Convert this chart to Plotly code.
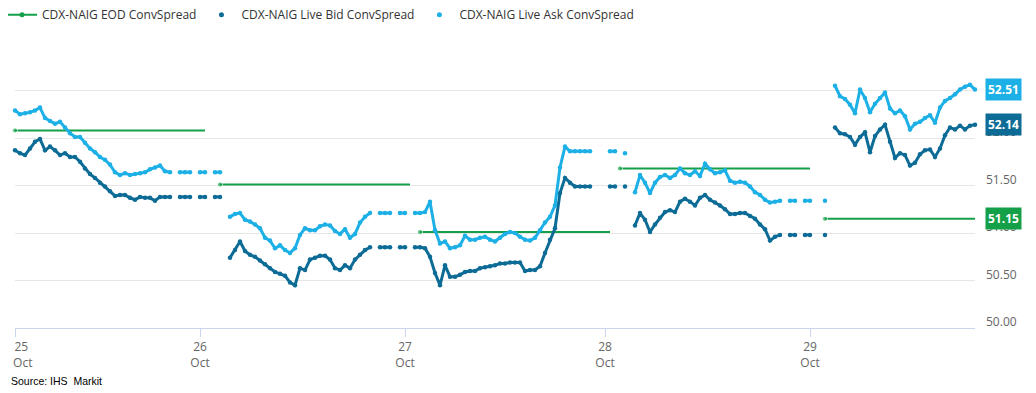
import plotly.graph_objects as go

# ---------------- data ----------------
# first label is padded so it sits right of its tick, like the reference
day_labels = ["&nbsp;&nbsp;&nbsp;&nbsp;25<br>&nbsp;&nbsp;&nbsp;&nbsp;&nbsp;Oct",
              "26<br>Oct", "27<br>Oct", "28<br>Oct", "29<br>Oct"]

# Live Ask ConvSpread, one entry per observation (None = no quote)
ask_oct25 = [52.29, 52.25, 52.26, 52.27, 52.29, 52.32, 52.21, 52.18, 52.15, 52.17,
             52.11, 52.05, 52.01, 52.01, 51.95, 51.89, 51.85, 51.80, 51.77, 51.72,
             51.64, 51.61, 51.63, 51.61, 51.62, 51.63, 51.64, 51.67, 51.69, 51.71,
             51.65, 51.64, None, 51.64, 51.64, 51.64, None]
ask_oct26 = [51.64, 51.64, None, 51.64, 51.64, None, 51.17, 51.20, 51.21, 51.14,
             51.12, 51.09, 51.05, 50.95, 50.92, 50.84, 50.87, 50.82, 50.79, 50.84,
             50.98, 51.05, 51.03, 51.03, 51.07, 51.09, 51.08, 51.02, 50.99, 51.04,
             50.95, 50.99, 51.11, 51.17, 51.21, None, 51.21, 51.21, 51.21, None,
             51.21]
ask_oct27 = [51.21, None, 51.21, 51.21, 51.22, 51.33, 51.03, 50.89, 50.91, 50.84,
             50.85, 50.87, 50.97, 50.93, 50.93, 50.95, 50.96, 50.93, 50.91, 50.95,
             50.99, 51.01, 51.00, 50.96, 50.93, 50.92, 50.95, 51.03, 51.11, 51.17,
             51.29, 51.69, 51.91, 51.86, 51.86, 51.86, 51.86, 51.86, None, None]
ask_oct28 = [None, 51.86, 51.86, None, 51.84, None, 51.43, 51.61, 51.53, 51.42,
             51.53, 51.59, 51.61, 51.58, 51.61, 51.68, 51.63, 51.61, 51.65, 51.60,
             51.73, 51.67, 51.63, 51.64, 51.66, 51.55, 51.53, 51.54, 51.53, 51.49,
             51.43, 51.40, 51.35, 51.32, 51.33, 51.34, None, 51.34, 51.34, None,
             51.34]
ask_oct29 = [51.34, None, None, 51.34, None, 52.55, 52.44, 52.41, 52.35, 52.26,
             52.51, 52.42, 52.27, 52.36, 52.42, 52.48, 52.31, 52.26, 52.29, 52.23,
             52.09, 52.15, 52.17, 52.21, 52.24, 52.16, 52.32, 52.39, 52.42, 52.46,
             52.51, 52.54, 52.56, 52.51]

# Live Bid ConvSpread
bid_oct25 = [51.87, 51.84, 51.82, 51.89, 51.96, 51.99, 51.87, 51.91, 51.87, 51.82,
             51.84, 51.80, 51.80, 51.75, 51.68, 51.62, 51.58, 51.53, 51.49, 51.44,
             51.39, 51.40, 51.40, 51.37, 51.35, 51.38, 51.37, 51.37, 51.34, 51.38,
             51.38, 51.38, None, 51.38, 51.38, 51.38, None]
bid_oct26 = [51.38, 51.38, None, 51.38, 51.38, None, 50.74, 50.82, 50.91, 50.81,
             50.77, 50.75, 50.71, 50.67, 50.63, 50.59, 50.57, 50.55, 50.48, 50.45,
             50.63, 50.61, 50.72, 50.74, 50.76, 50.76, 50.72, 50.63, 50.61, 50.66,
             50.63, 50.72, 50.77, 50.82, 50.85, None, 50.85, 50.85, 50.85, None,
             50.85]
bid_oct27 = [50.85, None, 50.85, 50.85, 50.84, 50.75, 50.58, 50.45, 50.66, 50.54,
             50.54, 50.56, 50.59, 50.60, 50.60, 50.63, 50.64, 50.65, 50.66, 50.68,
             50.68, 50.69, 50.69, 50.69, 50.60, 50.61, 50.61, 50.65, 50.79, 50.93,
             51.05, 51.42, 51.58, 51.53, 51.49, 51.49, 51.49, 51.49, None, None]
bid_oct28 = [None, 51.49, 51.49, None, 51.49, None, 51.08, 51.21, 51.14, 51.01,
             51.09, 51.16, 51.22, 51.24, 51.22, 51.33, 51.36, 51.33, 51.29, 51.37,
             51.40, 51.35, 51.32, 51.29, 51.25, 51.20, 51.20, 51.21, 51.21, 51.18,
             51.15, 51.09, 51.04, 50.92, 50.96, 50.98, None, 50.98, 50.98, None,
             50.98]
bid_oct29 = [50.98, None, None, 50.98, None, 52.11, 52.05, 52.04, 52.01, 51.93,
             52.01, 52.06, 51.85, 52.02, 52.09, 52.14, 51.96, 51.79, 51.84, 51.82,
             51.71, 51.74, 51.83, 51.87, 51.88, 51.80, 51.89, 52.03, 52.11, 52.09,
             52.13, 52.09, 52.13, 52.14]

# EOD ConvSpread: level and the observation span over which it is drawn
eod_values = [52.08, 51.51, 51.01, 51.68, 51.15]
eod_from = [0, 41, 81, 121, 162]
eod_to = [38, 79, 119, 159, 192]

y_ticks = [50.0, 50.5, 51.0, 51.5, 52.0, 52.5, 53.0]

# ---------------- build ----------------
ask_days = [ask_oct25, ask_oct26, ask_oct27, ask_oct28, ask_oct29]
bid_days = [bid_oct25, bid_oct26, bid_oct27, bid_oct28, bid_oct29]
ask = sum(ask_days, [])
bid = sum(bid_days, [])
obs = list(range(len(ask)))

day_starts = []
pos = 0
for d in ask_days:
    day_starts.append(pos)
    pos += len(d)

C_ASK = "#1cb0e6"
C_BID = "#0d6c96"
C_EOD = "#14a048"

fig = go.Figure()

eod_x, eod_y, eod_sz = [], [], []
for v, a, b in zip(eod_values, eod_from, eod_to):
    eod_x += [a, b, None]
    eod_y += [v, v, None]
    eod_sz += [5, 0, 0]

fig.add_trace(go.Scatter(x=eod_x, y=eod_y, mode="lines+markers",
                         line=dict(color=C_EOD, width=2),
                         marker=dict(color=C_EOD, size=eod_sz),
                         showlegend=False, cliponaxis=False, hoverinfo="skip"))
fig.add_trace(go.Scatter(x=obs, y=bid, mode="lines+markers",
                         line=dict(color=C_BID, width=3),
                         marker=dict(color=C_BID, size=4.5),
                         connectgaps=False, showlegend=False, cliponaxis=False))
fig.add_trace(go.Scatter(x=obs, y=ask, mode="lines+markers",
                         line=dict(color=C_ASK, width=3),
                         marker=dict(color=C_ASK, size=4.5),
                         connectgaps=False, showlegend=False, cliponaxis=False))

# legend entries
fig.add_trace(go.Scatter(x=[None], y=[None], mode="lines+markers",
                         name="CDX-NAIG EOD ConvSpread",
                         line=dict(color=C_EOD, width=2), marker=dict(color=C_EOD, size=5)))
fig.add_trace(go.Scatter(x=[None], y=[None], mode="markers",
                         name="CDX-NAIG Live Bid ConvSpread",
                         marker=dict(color=C_BID, size=5)))
fig.add_trace(go.Scatter(x=[None], y=[None], mode="markers",
                         name="CDX-NAIG Live Ask ConvSpread",
                         marker=dict(color=C_ASK, size=5)))

# last value labels on the right axis
for val, col in [(ask[-1], C_ASK), (bid[-1], C_BID), (eod_values[-1], C_EOD)]:
    fig.add_annotation(x=1, xref="paper", xanchor="left", xshift=10,
                       y=val, yref="y", yanchor="middle",
                       text=f"<b>{val:.2f}</b>", showarrow=False,
                       bgcolor=col, borderpad=2,
                       font=dict(family="Open Sans", size=12, color="white"))

fig.add_annotation(x=0, xref="paper", xanchor="left", xshift=-6,
                   y=0, yref="paper", yanchor="middle", yshift=-53,
                   text="Source: IHS  Markit", showarrow=False,
                   font=dict(family="Liberation Sans", size=10.5, color="#000000"))

# the page body adds an 8px offset, so the figure is sized to the remaining window
fig.update_layout(
    width=1028, height=385,
    margin=dict(l=7, r=61, t=35, b=65, autoexpand=False),
    paper_bgcolor="white", plot_bgcolor="white",
    font=dict(family="Open Sans", size=12, color="#666666"),
    legend=dict(orientation="h", x=-0.0135, xanchor="left",
                y=1.15, yref="paper", yanchor="top",
                font=dict(family="Open Sans", size=12, color="#333333"),
                bgcolor="rgba(0,0,0,0)"),
    xaxis=dict(range=[0, 192], tickvals=day_starts, ticktext=day_labels,
               showgrid=False, zeroline=False, showline=True, automargin=False,
               linecolor="#ccd6eb", linewidth=1, ticks="outside",
               ticklen=8, tickcolor="#ccd6eb", ticklabeloverflow="allow",
               tickfont=dict(color="#666666", size=12)),
    yaxis=dict(range=[50, 53], side="right", tickvals=y_ticks,
               ticktext=[f"{t:.2f}" if t < 53 else "" for t in y_ticks],
               showgrid=True, gridcolor="#e6e6e6", zeroline=False, automargin=False,
               showline=False, ticks="", ticklabelstandoff=10, ticklabelshift=-6,
               tickfont=dict(color="#666666", size=12)),
    hovermode=False,
)

fig.write_html("out.html")
